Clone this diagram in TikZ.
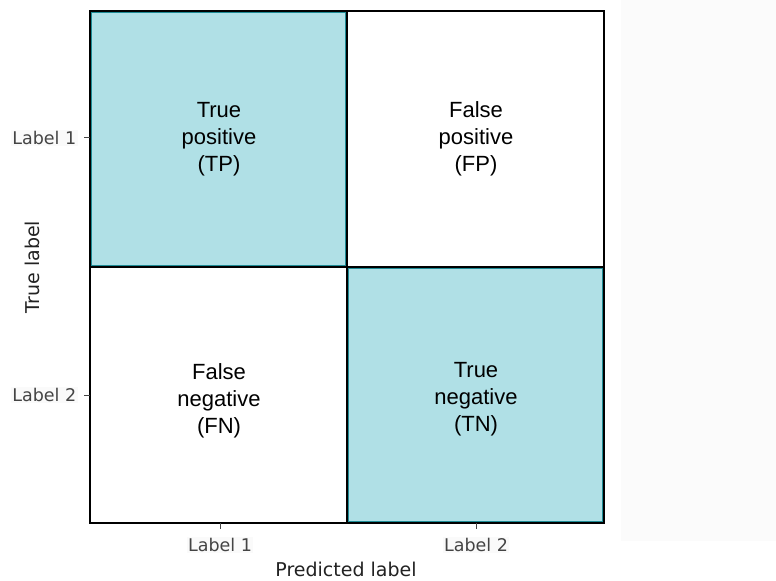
\documentclass[tikz,border=0pt]{standalone}
\usepackage{fontspec}
\setmainfont{Liberation Sans}
\newfontfamily\axisfont{DejaVu Sans}
\definecolor{cellfill}{HTML}{B0E0E6}
\definecolor{celledge}{HTML}{1E8C96}
\definecolor{tickgray}{HTML}{444444}
\definecolor{titlegray}{HTML}{222222}
\definecolor{panelgray}{HTML}{FBFBFB}
\definecolor{labelbg}{HTML}{FAFAFA}
\begin{document}
\begin{tikzpicture}[x=1bp,y=-1bp,
  celltext/.style={font=\fontsize{22bp}{27bp}\selectfont, align=center, text=black},
  ticklabel/.style={font=\axisfont\fontsize{17.5bp}{20bp}\selectfont, text=tickgray, fill=labelbg, inner sep=1.5bp},
  axistitle/.style={font=\axisfont\fontsize{19bp}{22bp}\selectfont, text=titlegray, inner sep=0pt},
  hitcell/.style={fill=cellfill, draw=celledge, line width=1.2bp},
  misscell/.style={fill=white},
  tickmark/.style={draw=tickgray, line width=1bp}]
\useasboundingbox (0,0) rectangle (776,581);
\fill[white] (0,0) rectangle (776,581);
\fill[panelgray] (621,0) rectangle (776,541);

% matrix cells
\path[hitcell] (91.5,12.5) rectangle (346,266);
\path[misscell] (348,12.5) rectangle (602.5,266);
\path[misscell] (91.5,268) rectangle (346,521.5);
\path[hitcell] (348,268) rectangle (602.5,521.5);

% grid lines and frame
\draw[line width=1.5bp] (347,11) -- (347,523);
\draw[line width=1.5bp] (90,267) -- (604,267);
\draw[line width=2.5bp] (90,11) rectangle (604,523);

% cell captions
\node[celltext] (tp) at (219,139) {True\\positive\\(TP)};
\node[celltext] (fp) at (476,139) {False\\positive\\(FP)};
\node[celltext] (fn) at (219,401) {False\\negative\\(FN)};
\node[celltext] (tn) at (476,399) {True\\negative\\(TN)};

% axis ticks
\coordinate (yt1) at (90,138);
\coordinate (yt2) at (90,395);
\coordinate (xt1) at (220,523);
\coordinate (xt2) at (476,523);
\draw[tickmark] (yt1) -- ++(-6,0);
\draw[tickmark] (yt2) -- ++(-6,0);
\draw[tickmark] (xt1) -- ++(0,6);
\draw[tickmark] (xt2) -- ++(0,6);

% tick labels
\node[ticklabel, anchor=east] (yl1) at (78,138) {Label 1};
\node[ticklabel, anchor=east] (yl2) at (78,395) {Label 2};
\node[ticklabel] (xl1) at (220,545) {Label 1};
\node[ticklabel] (xl2) at (476,545) {Label 2};

% axis titles
\node[axistitle, rotate=90] (ytitle) at (32,267) {True label};
\node[axistitle] (xtitle) at (346,569.5) {Predicted label};
\end{tikzpicture}
\end{document}
